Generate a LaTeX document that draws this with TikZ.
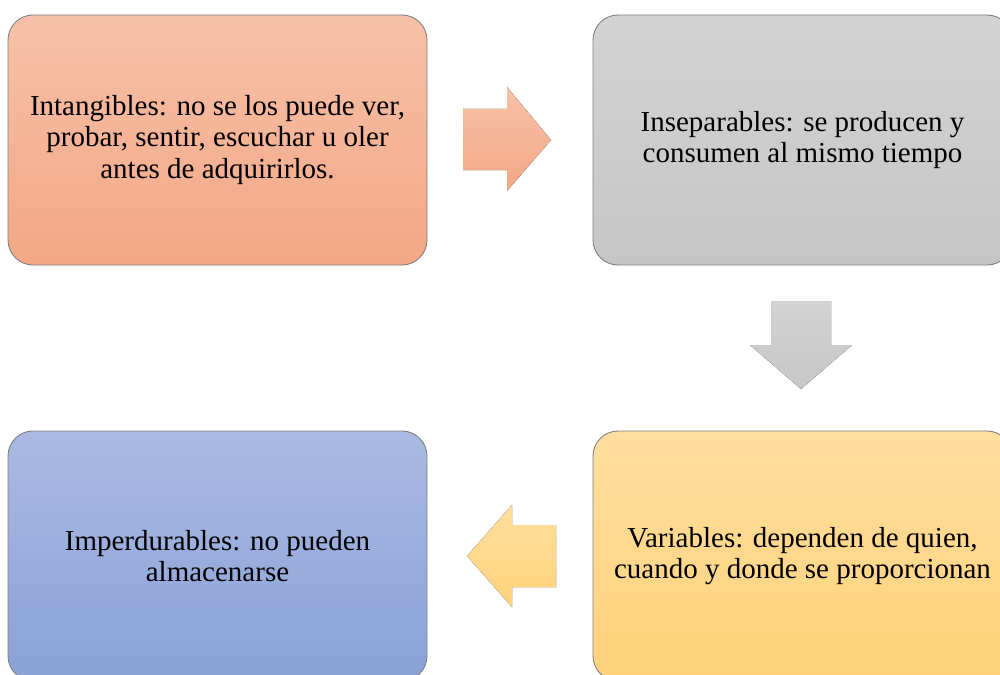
\documentclass[tikz,border=0pt]{standalone}
\usepackage{fontspec}
\setmainfont{Liberation Serif}
\begin{document}
\begin{tikzpicture}[x=1pt,y=-1pt,
  card/.style={draw=black!50, line width=0.9pt, rounded corners=25pt,
    minimum width=419pt, minimum height=250pt, align=center,
    font=\fontsize{29}{31.5}\selectfont, inner sep=0pt},
  peach/.style={top color=peachA, bottom color=peachB},
  grey/.style={top color=greyA, bottom color=greyB},
  blue/.style={top color=blueA, bottom color=blueB},
  gold/.style={top color=goldA, bottom color=goldB}]
\definecolor{peachA}{HTML}{F6C1A9}
\definecolor{peachB}{HTML}{F4A785}
\definecolor{greyA}{HTML}{D3D3D3}
\definecolor{greyB}{HTML}{C6C6C6}
\definecolor{blueA}{HTML}{AABAE3}
\definecolor{blueB}{HTML}{8AA1D7}
\definecolor{goldA}{HTML}{FFDE9F}
\definecolor{goldB}{HTML}{FFD27A}
\useasboundingbox (0,0) rectangle (1000,674);
\clip (0,0) rectangle (1000,674);

% the four cards
\node[card, peach] (intang) at (217.5,140)
  {Intangibles: no se los puede ver,\\probar, sentir, escuchar u oler\\antes de adquirirlos.};
\node[card, grey] (insep) at (802.5,140)
  {Inseparables: se producen y\\consumen al mismo tiempo};
\node[card, gold] (vari) at (802.5,556)
  {Variables: dependen de quien,\\cuando y donde se proporcionan};
\node[card, blue] (imper) at (217.5,556)
  {Imperdurables: no pueden\\almacenarse};

% block arrows between the cards
\coordinate (r1) at (463,109);
\fill[top color=peachA, bottom color=peachB]
  (r1) -- ++(44,0) -- ++(0,-22) -- (551,140) -- (507,191) -- ++(0,-21) -- (463,170) -- cycle;
\coordinate (d1) at (771,301);
\fill[top color=greyA, bottom color=greyB]
  (d1) -- (831,301) -- (831,345) -- (852,345) -- (801,389) -- (750,345) -- (771,345) -- cycle;
\coordinate (l1) at (556,525);
\fill[top color=goldA, bottom color=goldB]
  (l1) -- (512,525) -- (512,505) -- (467,556) -- (512,607) -- (512,587) -- (556,587) -- cycle;
\end{tikzpicture}
\end{document}
